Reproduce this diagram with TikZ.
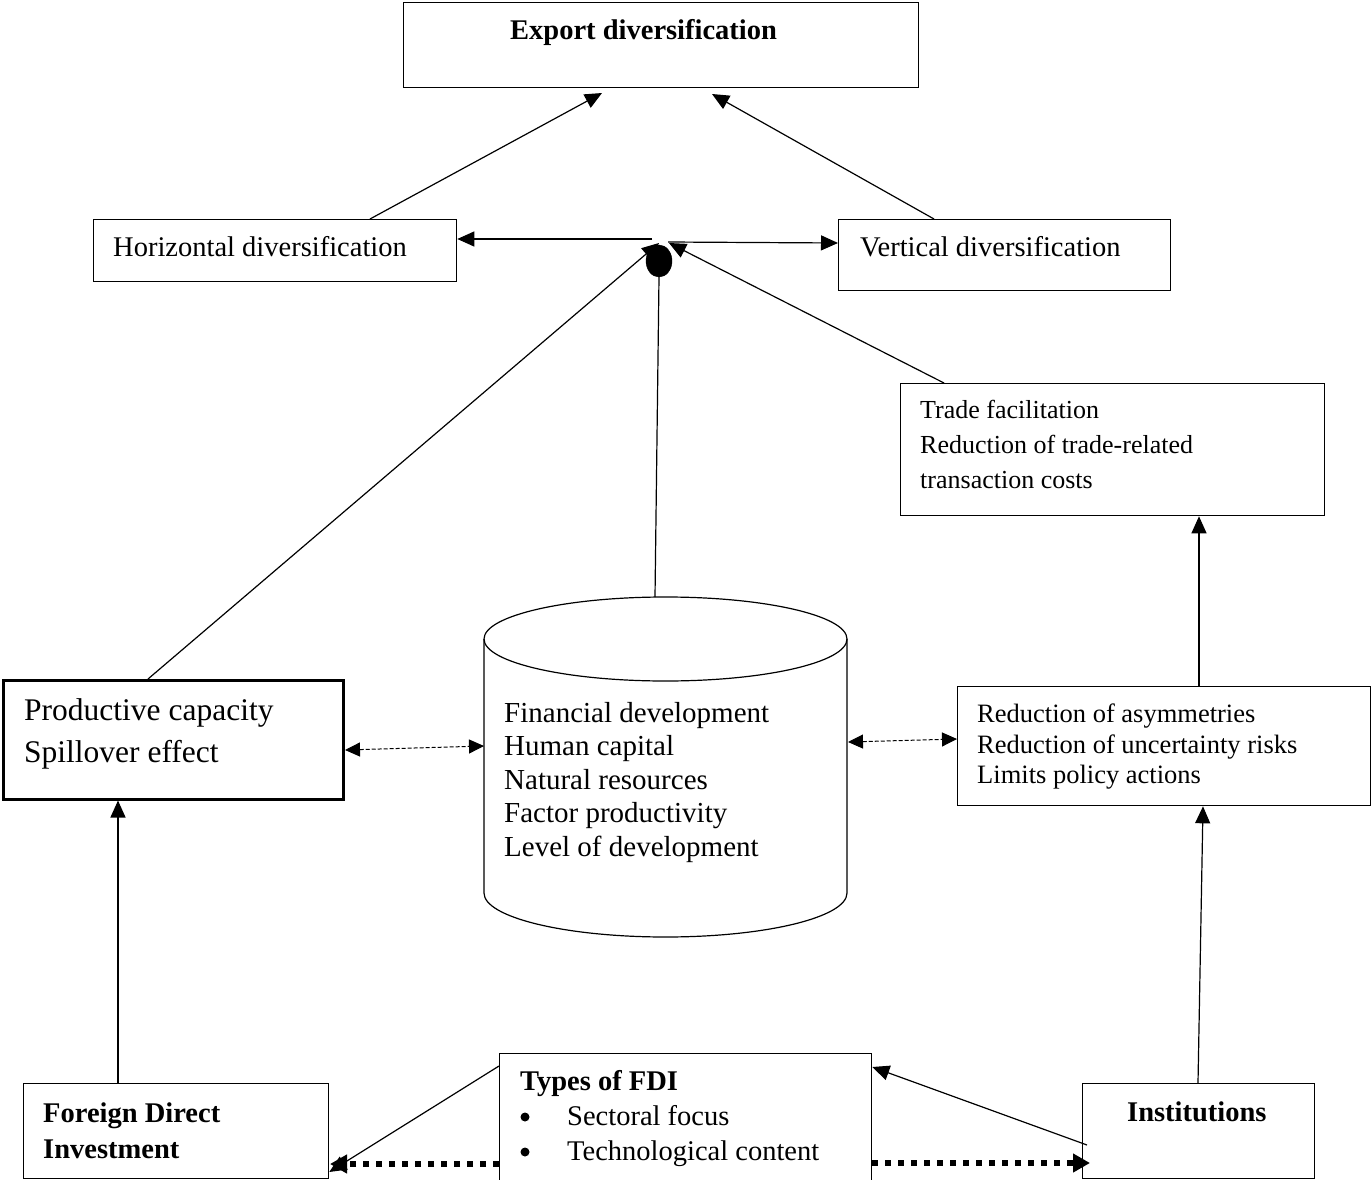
\documentclass[tikz,border=0pt]{standalone}
\usepackage{fontspec}
\setmainfont{Liberation Serif}
\usetikzlibrary{arrows.meta,shapes.geometric}
\begin{document}
\begin{tikzpicture}[x=1pt,y=-1pt,
  box/.style={draw, line width=1.3pt, inner sep=0pt, anchor=north west},
  txt/.style={anchor=base west, inner sep=0pt, font=\fontsize{28.5}{34}\selectfont},
  btxt/.style={txt, font=\fontsize{28.5}{34}\selectfont\bfseries},
  bul/.style={circle, fill=black, inner sep=0pt, minimum size=9pt},
  plain/.style={line width=1.2pt},
  arr/.style={line width=1.2pt, -{Triangle[length=17pt,width=15pt]}},
  dasharr/.style={line width=1pt, dash pattern=on 4pt off 2pt,
    {Triangle[length=15pt,width=14pt]}-{Triangle[length=15pt,width=14pt]}},
  dotarr/.style={line width=6pt, dash pattern=on 6pt off 7pt,
    -{Triangle[length=17pt,width=18pt]}}]
\useasboundingbox (0,0) rectangle (1371,1180);

% boxes
\node[box, minimum width=515pt, minimum height=85pt] (exp) at (403,2) {};
\node[box, minimum width=363pt, minimum height=62pt] (hz) at (93,219) {};
\node[box, minimum width=332pt, minimum height=71pt] (vt) at (838,219) {};
\node[box, minimum width=424pt, minimum height=132pt] (trade) at (900,383) {};
\node[box, line width=2.5pt, minimum width=340pt, minimum height=119pt] (pc) at (2,679) {};
\node[box, minimum width=413pt, minimum height=119pt] (red) at (957,686) {};
\node[box, minimum width=305pt, minimum height=95pt] (fdi) at (23,1083) {};
\node[box, minimum width=372pt, minimum height=150pt] (types) at (499,1053) {};
\node[box, minimum width=232pt, minimum height=95pt] (inst) at (1082,1083) {};

% central dot
\node[ellipse, fill=black, draw=black, inner sep=0pt, minimum width=26pt, minimum height=32pt] (dot) at (659,261) {};

% cylinder
\draw[plain] (665.5,639) ellipse [x radius=181.5, y radius=42];
\draw[plain] (484,639) -- (484,893) arc[start angle=180, end angle=0, x radius=181.5, y radius=44] -- (847,639);
\coordinate (cyltop) at (655,597);
\coordinate (cylL) at (484,746);
\coordinate (cylR) at (848,742);

% texts
\node[btxt] (t1) at (510,40) {Export diversification};
\node[txt] (t2) at (113,256) {Horizontal diversification};
\node[txt] (t3) at (860,256) {Vertical diversification};
\begin{scope}[every node/.style={txt, font=\fontsize{26}{30}\selectfont}]
\node (t4) at (920,418) {Trade facilitation};
\node (t5) at (920,453) {Reduction of trade-related};
\node (t6) at (920,488) {transaction costs};
\end{scope}
\begin{scope}[every node/.style={txt, font=\fontsize{31.5}{36}\selectfont}]
\node (t7) at (24,720) {Productive capacity};
\node (t8) at (24,762) {Spillover effect};
\end{scope}
\begin{scope}[every node/.style={txt, font=\fontsize{29}{34}\selectfont}]
\node (t9) at (504,722) {Financial development};
\node (t10) at (504,755.5) {Human capital};
\node (t11) at (504,789) {Natural resources};
\node (t12) at (504,822.5) {Factor productivity};
\node (t13) at (504,856) {Level of development};
\end{scope}
\begin{scope}[every node/.style={txt, font=\fontsize{26.5}{30}\selectfont}]
\node (t14) at (977,722) {Reduction of asymmetries};
\node (t15) at (977,753) {Reduction of uncertainty risks};
\node (t16) at (977,783) {Limits policy actions};
\end{scope}
\node[btxt] (t17) at (520,1090) {Types of FDI};
\node[bul] (b1) at (525,1117) {};
\node[txt] (t18) at (567,1125) {Sectoral focus};
\node[bul] (b2) at (525,1152) {};
\node[txt] (t19) at (567,1160) {Technological content};
\node[btxt] (t20) at (43,1122) {Foreign Direct};
\node[btxt] (t21) at (43,1158) {Investment};
\node[btxt] (t22) at (1127,1121) {Institutions};

% connectors
\coordinate (expL) at (602,93);
\coordinate (expR) at (712,94);
\coordinate (dotTL) at (659,243);
\coordinate (dotTR) at (669,243);
\coordinate (hL) at (652,239);
\coordinate (hR) at (668,242);

\draw[arr] (370,0 |- hz.north) -- (expL);
\draw[arr] (934,0 |- vt.north) -- (expR);
\draw[arr] (hL) -- (hz.east |- 0,239);
\draw[arr] (hR) -- (vt.west |- 0,243);
\draw[arr] (148,0 |- pc.north) -- (dotTL);
\draw[arr] (944,0 |- trade.north) -- (dotTR);
\draw[plain] (cyltop) -- (dot.south);
\draw[arr] (1199,0 |- red.north) -- (1199,0 |- trade.south);
\draw[dasharr] (345,750) -- (cylL);
\draw[dasharr] (cylR) -- (red.west |- 0,739);
\draw[arr] (118,0 |- fdi.north) -- (118,0 |- pc.south);
\draw[arr] (1198,0 |- inst.north) -- (1203,0 |- red.south);
\draw[arr] (types.west |- 0,1066) -- (fdi.east |- 0,1172);
\draw[arr] (1087,1145) -- (types.east |- 0,1067);
\draw[dotarr] (types.west |- 0,1164) -- (330,1164);
\draw[dotarr] (types.east |- 0,1163) -- (1090,1163);
\end{tikzpicture}
\end{document}
